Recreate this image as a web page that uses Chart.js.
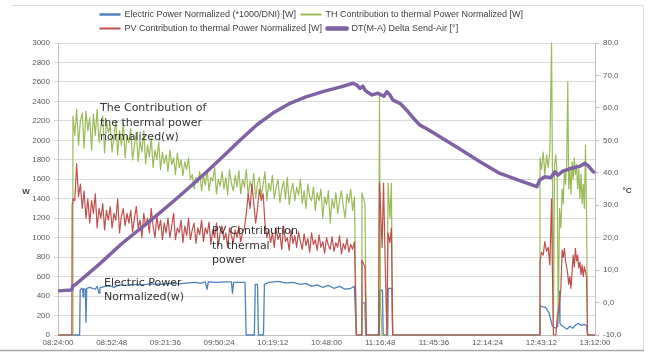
<!DOCTYPE html>
<html>
<head>
<meta charset="utf-8">
<script src="https://cdn.jsdelivr.net/npm/chart.js@4.4.1/dist/chart.umd.min.js"></script>
<style>
  html, body { margin: 0; padding: 0; background: #fff; }
  #chart { display: block; }
</style>
</head>
<body>
<canvas id="chart" width="648" height="355"></canvas>
<script>
// === DATA (minutes after 08:24:00) ===
const timeLabels = ["08:24:00", "08:52:48", "09:21:36", "09:50:24", "10:19:12", "10:48:00",
  "11:16:48", "11:45:36", "12:14:24", "12:43:12", "13:12:00"];
const tickMinutes = [0, 28.8, 57.6, 86.4, 115.2, 144, 172.8, 201.6, 230.4, 259.2, 288];

// Electric Power Normalized (*1000/DNI) [W]
const elecTime = [0, 11.6, 11.9, 12.6, 13.2, 13.5, 13.8, 14.7, 15.0, 15.4,
  17, 20, 21, 22, 22.5, 25, 28, 30, 33, 36,
  40, 45, 50, 55, 60, 65, 70, 74, 76.4, 79,
  80, 80.6, 85, 90, 93, 93.6, 94.2, 98, 100.3, 100.9,
  105.3, 105.8, 107, 107.5, 110.2, 110.7, 113, 118, 122, 126,
  130, 133, 136, 139, 142, 145, 148, 151, 154, 157,
  159, 160, 162.8, 163.1, 164.6, 165, 172.2, 172.4, 174, 174.4,
  176.8, 177.1, 179, 179.5, 258.2, 258.5, 260, 261.5, 262.5, 263.3,
  264, 265, 266, 267, 268, 268.8, 269.2, 270, 271.5, 273,
  274.5, 276, 277.5, 279, 280.5, 282, 283.5, 284, 288];
const elecValues = [0, 0, 460, 480, 470, 390, 475, 470, 130, 480,
  490, 470, 500, 430, 485, 500, 505, 490, 515, 510,
  520, 515, 525, 520, 530, 525, 535, 540, 530, 545,
  470, 545, 540, 545, 545, 430, 540, 540, 540, 0,
  0, 520, 520, 0, 0, 520, 540, 550, 535, 540,
  520, 530, 500, 515, 490, 510, 480, 500, 470, 480,
  500, 0, 0, 330, 330, 0, 0, 460, 460, 0,
  0, 480, 480, 0, 0, 300, 290, 285, 250, 230,
  175, 100, 80, 70, 90, 450, 120, 100, 80, 60,
  90, 70, 100, 120, 100, 110, 100, 0, 0];

// shared time base for the thermal contributions
const thTime = [0, 7.4, 7.6,
  8, 9, 10, 11, 12, 13, 14, 15, 16, 17,
  18, 19, 20, 21, 22, 23, 24, 25, 26, 27,
  28, 29, 30, 31, 32, 33, 34, 35, 36, 37,
  38, 39, 40, 41, 42, 43, 44, 45, 46, 47,
  48, 49, 50, 51, 52, 53, 54, 55, 56, 57,
  58, 59, 60, 61, 62, 63, 64, 65, 66, 67,
  68, 69, 70, 71, 72, 73, 74, 75, 76, 77,
  78, 79, 80, 81, 82, 83, 84, 85, 86, 87,
  88, 89, 90, 91, 92, 93, 94, 95, 96, 97,
  98, 99, 100, 101, 102, 103, 104, 105, 106, 107,
  108, 109, 110, 111, 112, 113, 114, 115, 116, 117,
  118, 119, 120, 121, 122, 123, 124, 125, 126, 127,
  128, 129, 130, 131, 132, 133, 134, 135, 136, 137,
  138, 139, 140, 141, 142, 143, 144, 145, 146, 147,
  148, 149, 150, 151, 152, 153, 154, 155, 156, 157, 158, 159,
  160, 162.6, 163, 164.6, 165.4, 171.9, 172.4, 173.0, 173.8, 174.6, 175.4, 176.4, 177.0, 178.0, 178.8, 179.5,
  258.2, 258.5, 259.3, 260.2, 261.1, 262.0, 262.9, 263.8, 264.7, 265.2,
  265.7, 266.3, 267.0, 267.7, 268.3, 269.0, 269.7, 270.4, 271.0, 271.6,
  272.2, 272.8, 273.4, 273.9, 274.5, 275.1, 275.7, 276.3, 276.9, 277.5,
  278.1, 278.7, 279.3, 279.9, 280.5, 281.1, 281.7, 282.3, 282.9, 283.5,
  284.0, 288];

// TH Contribution to thermal Power Normalized [W]
const thValues = [0, 0, 0,
  2250, 2050, 2320, 1950, 2200, 2280, 1920, 2300, 2100, 2230,
  1900, 2270, 2050, 2320, 1980, 2150, 2250, 1870, 2200, 2080,
  2150, 1880, 2050, 2200, 1850, 2100, 1950, 2180, 1820, 2050,
  1980, 2120, 1800, 1950, 2080, 1780, 2000, 1880, 2100, 1760,
  1950, 1830, 2020, 1720, 1900, 1800, 1980, 1700, 1880, 1760,
  1850, 1680, 1900, 1750, 1820, 1650, 1870, 1720, 1800, 1640,
  1780, 1700, 1820, 1600, 1650, 1500, 1620, 1560, 1680, 1480,
  1640, 1540, 1700, 1480, 1620, 1580, 1720, 1450, 1600, 1530,
  1680, 1500, 1620, 1440, 1700, 1560, 1480, 1640, 1520, 1690,
  1450, 1600, 1520, 1700, 1430, 1580, 1500, 1660, 1400, 1560,
  1620, 1420, 1540, 1680, 1380, 1560, 1480, 1640, 1400, 1520,
  1600, 1360, 1500, 1580, 1400, 1620, 1340, 1480, 1560, 1380,
  1520, 1440, 1600, 1350, 1480, 1300, 1550, 1420, 1380, 1520,
  1280, 1460, 1380, 1500, 1200, 1420, 1340, 1480, 1150, 1400,
  1300, 1460, 1250, 1380, 1480, 1320, 1200, 1450, 1360, 1500, 1280, 1420,
  0, 0, 1460, 1350, 0, 0, 2450, 300, 0, 0, 0, 0, 1560, 1200, 1560, 0,
  0, 1820, 1700, 1880, 1650, 1850, 1720, 1900, 3000, 1600,
  100, 1750, 1850, 1650, 150, 1300, 1100, 1500, 1350, 1700,
  1550, 1750, 2600, 1500, 1700, 1450, 1780, 1600, 1820, 1650,
  1750, 1500, 1700, 1400, 1650, 1350, 1550, 1300, 1950, 1200,
  0, 0];

// PV Contribution to thermal Power Normalized [W]
const pvValues = [0, 0, 1350,
  1400, 1380, 1760, 1420, 1550, 1300, 1480, 1200, 1400, 1150,
  1380, 1250, 1450, 1100, 1300, 1200, 1350, 1080, 1280, 1180,
  1320, 1100, 1250, 1180, 1400, 1050, 1220, 1300, 1120, 1250,
  1150, 1280, 1060, 1200, 1320, 1100, 1180, 1000, 1250, 1120,
  1200, 1050, 1300, 1120, 1000, 1220, 1080, 1180, 980, 1150,
  1050, 1200, 1000, 1120, 1250, 980, 1100, 1050, 1180, 950,
  1120, 1020, 1200, 980, 1080, 1150, 940, 1100, 1030, 1180,
  960, 1100, 1040, 1160, 930, 1080, 1000, 1150, 920, 1060,
  1120, 980, 1050, 900, 1100, 1020, 950, 1080, 1000, 1120,
  960, 1050, 1100, 1250, 1450, 1300, 1550, 1350, 1150, 1300,
  1500, 1380, 1450, 1150, 1000, 1080, 950, 1050, 900, 1100,
  980, 1040, 880, 1120, 960, 1000, 870, 1080, 940, 1020,
  900, 1060, 960, 880, 1040, 920, 990, 850, 1050, 930,
  980, 870, 1030, 900, 960, 840, 1000, 920, 880, 1010,
  860, 950, 900, 1020, 830, 940, 880, 990, 850, 930, 880, 960,
  0, 0, 770, 700, 0, 0, 1560, 1300, 900, 1560, 800, 0, 1050, 950, 1100, 0,
  0, 750, 850, 820, 960, 860, 900, 720, 1400, 600,
  0, 0, 0, 170, 250, 340, 480, 870, 800, 890,
  760, 700, 620, 520, 600, 480, 650, 820, 700, 890,
  760, 820, 690, 750, 620, 720, 600, 700, 650, 590,
  0, 0];

// DT(M-A) Delta Send-Air [°] (right axis)
const dtTime = [0, 7.3, 8.0, 9.1, 22.5, 34.3, 52, 62.7, 70.8, 79.9,
  88.5, 97.6, 106.7, 115.3, 124.4, 133, 142, 151.2, 158.2, 160.3,
  162, 163.5, 164.6, 165.7, 168.4, 171.6, 173.2, 174.8, 176.4, 178,
  179.6, 183.4, 187, 190.5, 194.1, 198, 204.8, 215.5, 226.3, 237,
  247.7, 256.8, 258.4, 261.1, 264.3, 266.5, 268.1, 270.8, 275.4, 279.9,
  282.6, 284.2, 286.9, 288];
const dtValues = [3.6, 3.9, 5.2, 5.4, 12.0, 18.2, 26.4, 31.6, 35.7, 40.4,
  45.0, 50.0, 54.8, 58.4, 61.4, 63.4, 65.0, 66.4, 67.6, 67.0,
  66.0, 66.7, 65.5, 65.0, 64.0, 64.5, 64.0, 63.6, 65.0, 64.0,
  62.4, 61.4, 59.3, 56.9, 54.7, 53.5, 51.1, 47.3, 43.4, 39.8,
  37.6, 35.7, 37.8, 38.8, 38.5, 40.3, 39.3, 40.5, 41.4, 42.0,
  42.9, 42.2, 40.4, 40.0];

const toPoints = (times, values) => times.map((t, i) => ({ x: t, y: values[i] }));

const tickFont = { family: "Liberation Sans", size: 8 };

// === Tulisan tambahan, bingkai, posisi legend ===
const notesPlugin = {
  id: "notes",
  afterLayout(chart) {
    chart.legend.left = 95;
  },
  beforeDraw(chart) {
    const ctx = chart.ctx;
    ctx.save();
    ctx.fillStyle = "#ffffff";
    ctx.fillRect(0, 0, chart.width, chart.height);
    ctx.strokeStyle = "#d9d9d9";
    ctx.lineWidth = 1;
    ctx.beginPath();
    ctx.moveTo(12, 5.5);
    ctx.lineTo(643.5, 5.5);
    ctx.lineTo(643.5, 350);
    ctx.stroke();
    ctx.strokeStyle = "#a6a6a6";
    ctx.lineWidth = 1.5;
    ctx.beginPath();
    ctx.moveTo(0, 350.5);
    ctx.lineTo(644, 350.5);
    ctx.stroke();
    ctx.restore();
  },
  afterDatasetsDraw(chart) {
    const ctx = chart.ctx;
    ctx.save();
    ctx.fillStyle = "#333333";
    ctx.textBaseline = "middle";
    ctx.textAlign = "left";
    ctx.font = "11px 'DejaVu Sans'";
    ctx.fillText("The Contribution of", 100, 108.5);
    ctx.fillText("the thermal power", 100, 123);
    ctx.fillText("normalized(w)", 100, 137.5);
    ctx.fillText("PV Contribution", 212, 231.5);
    ctx.fillText("th thermal", 212, 246);
    ctx.fillText("power", 212, 260.5);
    ctx.fillText("Electric Power", 104, 283);
    ctx.fillText("Normalized(w)", 104, 297);

    ctx.font = "bold 8px 'Liberation Sans'";
    ctx.fillStyle = "#404040";
    ctx.textAlign = "center";
    ctx.fillText("W", 26, 192);
    ctx.fillText("°C", 627, 191);
    ctx.restore();
  }
};

const ctx = document.getElementById("chart").getContext("2d");
const chart = new Chart(ctx, {
  type: "line",
  data: {
    datasets: [
      { label: "Electric Power Normalized (*1000/DNI) [W]", data: toPoints(elecTime, elecValues),
        borderColor: "#4f81bd", backgroundColor: "#4f81bd", borderWidth: 1.3, yAxisID: "y", order: 3, clip: 3 },
      { label: "TH Contribution to thermal Power Normalized [W]", data: toPoints(thTime, thValues),
        borderColor: "#9bbb59", backgroundColor: "#9bbb59", borderWidth: 1.2, yAxisID: "y", order: 2, clip: 3 },
      { label: "PV Contribution to thermal Power Normalized [W]", data: toPoints(thTime, pvValues),
        borderColor: "#c0504d", backgroundColor: "#c0504d", borderWidth: 1.2, yAxisID: "y", order: 1, clip: 3 },
      { label: "DT(M-A) Delta Send-Air [°]", data: toPoints(dtTime, dtValues),
        borderColor: "#7f62a4", backgroundColor: "#7f62a4", borderWidth: 3.5, yAxisID: "y1", order: 0, clip: 3 },
    ],
  },
  options: {
    responsive: false,
    animation: false,
    devicePixelRatio: 1,
    layout: { padding: { top: 5, left: 0, right: 0, bottom: 0 } },
    elements: { point: { radius: 0 }, line: { tension: 0, borderJoinStyle: "round" } },
    scales: {
      x: {
        type: "linear",
        min: 0,
        max: 288,
        afterBuildTicks: (scale) => { scale.ticks = tickMinutes.map((v) => ({ value: v })); },
        afterFit: (scale) => { scale.height = 20; },
        grid: { display: false, drawTicks: false },
        border: { display: true, color: "#bfbfbf" },
        ticks: {
          autoSkip: false, maxRotation: 0, padding: 3, color: "#595959", font: tickFont,
          callback: (value, index) => timeLabels[index],
        },
      },
      y: {
        position: "left",
        min: 0,
        max: 3000,
        afterFit: (scale) => { scale.width = 58; },
        grid: { color: "#d9d9d9", lineWidth: 1, tickLength: 4 },
        border: { display: true, color: "#bfbfbf" },
        ticks: {
          stepSize: 100, padding: 4, color: "#595959", font: tickFont,
          callback: (value) => String(value),
        },
      },
      y1: {
        position: "right",
        min: -10,
        max: 80,
        afterFit: (scale) => { scale.width = 53; },
        grid: { drawOnChartArea: false, color: "#bfbfbf", tickLength: 4 },
        border: { display: true, color: "#bfbfbf" },
        ticks: {
          stepSize: 10, padding: 4, color: "#595959", font: tickFont,
          callback: (value) => value.toFixed(1).replace(".", ","),
        },
      },
    },
    plugins: {
      legend: {
        position: "top",
        align: "start",
        labels: {
          boxWidth: 20, boxHeight: 1, padding: 5, color: "#404040",
          font: { family: "Liberation Sans", size: 9 },
          sort: (a, b) => a.datasetIndex - b.datasetIndex,
        },
      },
      tooltip: { enabled: false },
    },
  },
  plugins: [notesPlugin],
});
</script>
</body>
</html>
